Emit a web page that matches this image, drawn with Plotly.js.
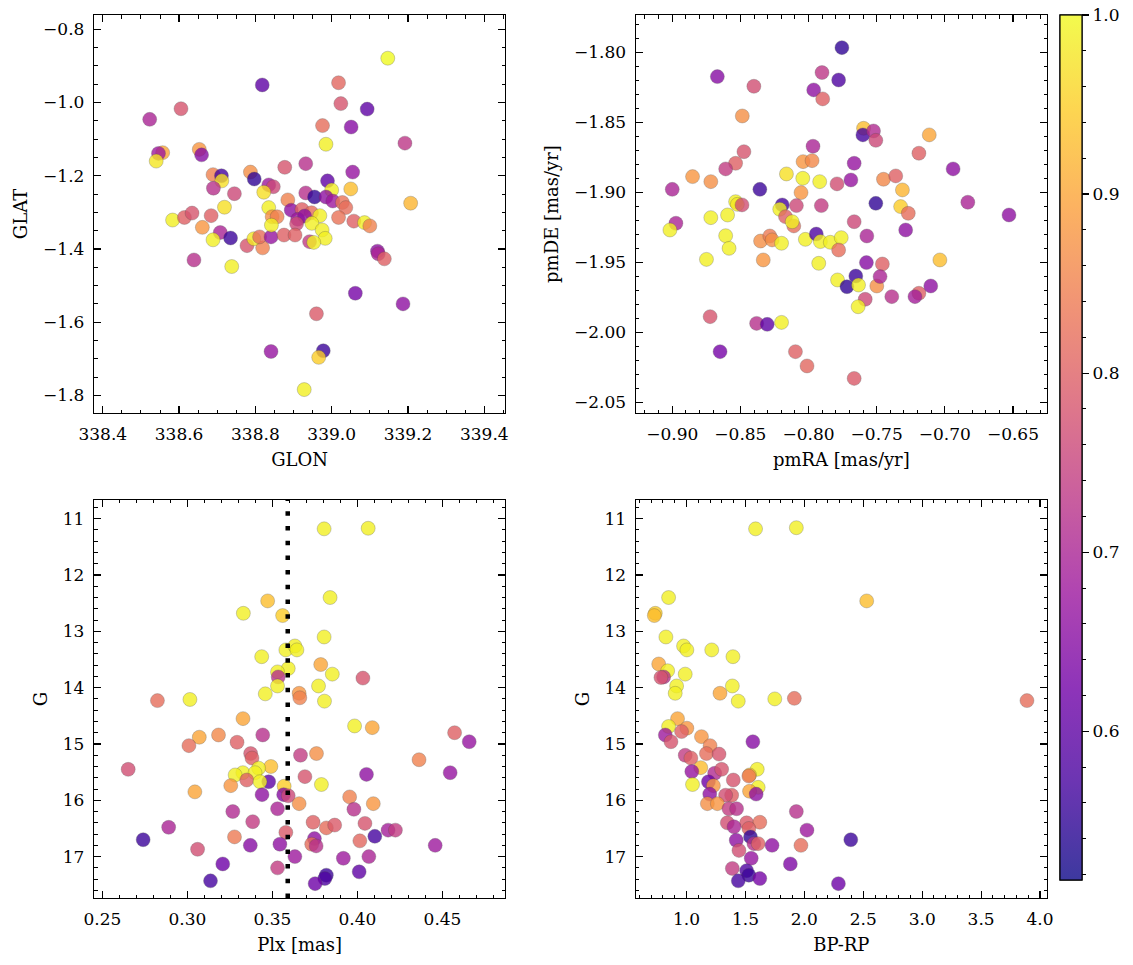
<!DOCTYPE html>
<html>
<head>
<meta charset="utf-8">
<script src="https://cdn.plot.ly/plotly-3.0.1.min.js"></script>
<style>html,body{margin:0;padding:0;background:#fff;} #chart{width:1133px;height:965px;}</style>
</head>
<body>
<div id="chart"></div>
<script>
// ---------------- DATA ----------------
// Panel 1: sky position
const glon = [339.147,338.818,339.018,339.024,339.093,338.605,338.523,338.976,339.051,338.985,339.192,338.557,338.546,338.540,338.653,338.659,338.877,338.932,339.055,338.787,338.797,338.689,338.711,338.712,338.989,339.000,339.050,338.690,338.745,338.835,338.847,338.822,338.932,338.955,338.985,339.003,339.207,338.885,339.028,339.037,338.719,338.835,338.894,338.922,338.947,338.969,338.911,338.929,338.908,338.844,338.857,338.583,338.614,338.634,338.684,338.661,338.708,338.689,338.735,338.778,338.819,338.796,338.811,338.841,338.875,338.904,338.842,338.948,338.975,338.983,338.942,338.953,339.058,339.086,339.100,339.018,339.120,339.122,339.138,338.639,338.738,339.062,339.187,338.960,338.841,338.978,338.966,338.928];
const glat = [-0.879,-0.952,-0.946,-1.003,-1.018,-1.017,-1.046,-1.063,-1.067,-1.114,-1.111,-1.137,-1.139,-1.160,-1.128,-1.143,-1.177,-1.167,-1.190,-1.190,-1.209,-1.197,-1.200,-1.214,-1.214,-1.239,-1.236,-1.234,-1.249,-1.225,-1.230,-1.245,-1.247,-1.258,-1.258,-1.269,-1.275,-1.266,-1.273,-1.287,-1.286,-1.287,-1.294,-1.292,-1.301,-1.309,-1.319,-1.310,-1.331,-1.312,-1.312,-1.321,-1.314,-1.302,-1.309,-1.341,-1.355,-1.375,-1.370,-1.391,-1.397,-1.372,-1.367,-1.367,-1.362,-1.362,-1.335,-1.330,-1.348,-1.371,-1.380,-1.382,-1.324,-1.328,-1.337,-1.314,-1.406,-1.413,-1.427,-1.430,-1.448,-1.521,-1.550,-1.577,-1.680,-1.678,-1.696,-1.784];
const probSky = [1.00,0.60,0.81,0.78,0.60,0.78,0.70,0.82,0.65,0.99,0.73,0.90,0.68,0.98,0.88,0.65,0.78,0.72,0.67,0.87,0.55,0.85,0.57,0.97,0.60,0.99,0.93,0.72,0.76,0.68,0.76,0.97,0.72,0.55,0.66,0.68,0.92,0.85,0.83,0.82,0.97,0.99,0.66,0.80,0.82,0.99,0.68,0.66,0.76,0.87,0.85,0.99,0.80,0.78,0.80,0.88,0.70,0.99,0.56,0.78,0.85,0.98,0.82,0.67,0.80,0.80,0.99,0.99,0.99,0.99,0.74,0.99,0.80,0.99,0.85,0.83,0.66,0.70,0.80,0.72,0.99,0.63,0.66,0.79,0.67,0.56,0.95,0.99];

// Panel 2: proper motions
const pmra = [-0.7755,-0.8669,-0.7779,-0.7901,-0.7962,-0.7896,-0.8401,-0.8486,-0.7596,-0.7601,-0.7523,-0.7506,-0.7114,-0.7190,-0.6939,-0.8474,-0.7967,-0.8535,-0.8608,-0.8851,-0.8717,-0.9000,-0.8357,-0.8162,-0.8040,-0.7974,-0.8042,-0.7918,-0.8055,-0.7791,-0.7665,-0.7689,-0.7450,-0.7360,-0.7311,-0.7506,-0.7324,-0.7268,-0.6831,-0.6529,-0.7906,-0.8089,-0.8193,-0.8211,-0.8535,-0.8522,-0.8488,-0.8973,-0.9017,-0.8717,-0.8594,-0.8608,-0.8583,-0.8749,-0.8332,-0.8352,-0.8284,-0.8267,-0.8198,-0.8169,-0.8108,-0.8120,-0.8023,-0.7943,-0.7913,-0.7840,-0.7760,-0.7779,-0.7665,-0.7572,-0.7287,-0.7925,-0.7575,-0.7458,-0.7036,-0.7787,-0.7718,-0.7653,-0.7633,-0.7499,-0.7475,-0.7584,-0.7636,-0.7389,-0.7190,-0.7219,-0.7103,-0.8722,-0.8381,-0.8303,-0.8198,-0.8649,-0.8096,-0.8011,-0.7665];
const pmde = [-1.7967,-1.8174,-1.8198,-1.8145,-1.8269,-1.8333,-1.8243,-1.8455,-1.8543,-1.8590,-1.8562,-1.8629,-1.8590,-1.8721,-1.8833,-1.8710,-1.8671,-1.8793,-1.8833,-1.8888,-1.8924,-1.8979,-1.8979,-1.8869,-1.8781,-1.8774,-1.8900,-1.8924,-1.9002,-1.8940,-1.8793,-1.8912,-1.8907,-1.8883,-1.8983,-1.9079,-1.9102,-1.9150,-1.9071,-1.9162,-1.9095,-1.9095,-1.9090,-1.9121,-1.9067,-1.9086,-1.9090,-1.9221,-1.9269,-1.9181,-1.9162,-1.9310,-1.9400,-1.9479,-1.9483,-1.9348,-1.9312,-1.9340,-1.9364,-1.9174,-1.9240,-1.9210,-1.9336,-1.9298,-1.9352,-1.9357,-1.9324,-1.9412,-1.9210,-1.9312,-1.9269,-1.9507,-1.9502,-1.9512,-1.9483,-1.9626,-1.9674,-1.9598,-1.9662,-1.9669,-1.9602,-1.9764,-1.9817,-1.9745,-1.9721,-1.9745,-1.9669,-1.9888,-1.9936,-1.9943,-1.9929,-2.0138,-2.0138,-2.0240,-2.0329];
const probPm = [0.55,0.65,0.58,0.73,0.66,0.80,0.77,0.87,0.93,0.57,0.71,0.76,0.90,0.80,0.66,0.78,0.70,0.80,0.74,0.88,0.87,0.70,0.56,0.97,0.88,0.86,0.99,0.99,0.88,0.77,0.67,0.67,0.86,0.80,0.92,0.55,0.95,0.82,0.70,0.66,0.74,0.76,0.57,0.99,0.99,0.98,0.77,0.70,0.99,0.99,0.99,0.99,0.99,0.99,0.88,0.87,0.84,0.87,0.99,0.80,0.82,0.99,0.99,0.58,0.99,0.99,0.99,0.82,0.76,0.70,0.66,0.99,0.65,0.80,0.93,0.99,0.55,0.56,0.99,0.87,0.70,0.76,0.99,0.72,0.80,0.69,0.66,0.78,0.72,0.60,0.99,0.63,0.80,0.81,0.79];

// Panel 3: parallax vs G
const plx = [0.3804,0.4063,0.3839,0.3472,0.3329,0.3560,0.3804,0.3579,0.3632,0.3644,0.3437,0.3784,0.3852,0.3593,0.3530,0.3534,0.4032,0.3530,0.3771,0.3458,0.3657,0.3661,0.3806,0.2824,0.3015,0.3327,0.3983,0.4087,0.4571,0.4657,0.3070,0.3183,0.3009,0.3292,0.3443,0.3372,0.3380,0.3665,0.3759,0.4362,0.2652,0.3491,0.3419,0.3326,0.3281,0.3398,0.4545,0.4053,0.3691,0.3349,0.3478,0.3427,0.3255,0.3788,0.3569,0.3044,0.3439,0.3566,0.3593,0.3954,0.3657,0.4093,0.3530,0.3979,0.3267,0.3384,0.3739,0.4044,0.3817,0.3866,0.2890,0.4180,0.4223,0.3579,0.2740,0.3277,0.4102,0.3747,0.3731,0.3757,0.4014,0.3370,0.3544,0.4457,0.3060,0.3632,0.3917,0.4067,0.3208,0.3530,0.4010,0.3136,0.3817,0.3808,0.3751];
const gPlx = [11.18,11.17,12.40,12.46,12.68,12.72,13.10,13.33,13.26,13.33,13.45,13.59,13.76,13.66,13.72,13.81,13.83,13.97,13.97,14.11,14.10,14.18,14.24,14.23,14.21,14.55,14.68,14.71,14.80,14.96,14.88,14.84,15.03,14.97,14.84,15.17,15.25,15.20,15.17,15.28,15.45,15.40,15.43,15.51,15.55,15.51,15.51,15.54,15.58,15.64,15.67,15.67,15.74,15.72,15.75,15.85,15.90,15.90,15.92,15.94,16.06,16.06,16.15,16.16,16.20,16.38,16.39,16.41,16.49,16.44,16.48,16.53,16.53,16.57,16.70,16.65,16.64,16.68,16.78,16.81,16.72,16.80,16.78,16.80,16.87,17.00,17.03,17.00,17.13,17.20,17.27,17.43,17.33,17.39,17.48];
const probPlx = [0.99,0.99,0.99,0.93,0.99,0.95,0.99,0.99,0.99,0.99,0.99,0.90,0.99,0.99,0.99,0.72,0.78,0.99,0.99,0.99,0.88,0.85,0.99,0.82,0.99,0.90,0.99,0.90,0.80,0.67,0.90,0.86,0.82,0.80,0.72,0.78,0.80,0.74,0.87,0.85,0.77,0.93,0.99,0.99,0.99,0.99,0.67,0.66,0.78,0.80,0.60,0.99,0.88,0.99,0.95,0.90,0.66,0.65,0.76,0.85,0.87,0.88,0.70,0.72,0.71,0.74,0.80,0.78,0.82,0.79,0.70,0.69,0.74,0.79,0.56,0.84,0.57,0.66,0.82,0.72,0.81,0.65,0.66,0.68,0.77,0.68,0.68,0.70,0.62,0.74,0.60,0.57,0.56,0.58,0.62];
const plxRef = 0.359;

// Panel 4: colour-magnitude diagram
const bprp = [1.586,1.932,2.529,0.848,0.735,0.727,0.825,0.975,1.003,1.214,1.394,0.764,0.840,0.989,0.806,0.783,0.916,0.904,1.284,1.389,1.439,1.749,1.915,3.889,0.924,0.848,1.003,0.958,0.820,0.868,1.563,1.127,1.200,0.989,1.037,1.169,1.276,1.121,1.045,1.239,1.298,1.600,1.535,1.529,1.051,1.186,1.228,1.397,1.608,1.535,1.591,1.197,1.383,1.332,1.177,1.262,1.360,1.425,1.932,1.346,1.510,1.622,1.403,1.529,2.022,1.422,1.543,1.572,1.608,1.726,1.971,2.394,1.445,1.549,1.881,1.389,1.510,1.529,1.622,1.439,2.289];
const gCmd = [11.18,11.16,12.46,12.40,12.68,12.72,13.10,13.26,13.33,13.33,13.45,13.58,13.70,13.76,13.81,13.82,13.97,14.10,14.10,13.97,14.24,14.20,14.19,14.23,14.55,14.69,14.72,14.78,14.84,14.96,14.96,14.87,15.03,15.20,15.25,15.17,15.18,15.42,15.49,15.52,15.45,15.45,15.55,15.57,15.72,15.67,15.74,15.64,15.77,15.84,15.89,15.89,15.91,15.91,16.06,16.06,16.15,16.15,16.20,16.40,16.40,16.39,16.47,16.50,16.53,16.71,16.65,16.77,16.77,16.80,16.80,16.70,16.89,17.03,17.13,17.21,17.25,17.33,17.39,17.43,17.48];
const probCmd = [0.99,0.99,0.93,0.99,0.95,0.93,0.99,0.99,0.99,0.99,0.99,0.90,0.99,0.99,0.72,0.78,0.99,0.99,0.90,0.99,0.99,0.99,0.82,0.82,0.90,0.99,0.88,0.80,0.68,0.78,0.65,0.88,0.85,0.74,0.80,0.82,0.78,0.93,0.67,0.71,0.78,0.99,0.93,0.84,0.99,0.62,0.88,0.78,0.99,0.90,0.66,0.66,0.80,0.77,0.87,0.88,0.74,0.72,0.72,0.77,0.79,0.82,0.70,0.80,0.68,0.66,0.55,0.72,0.80,0.66,0.82,0.56,0.77,0.67,0.64,0.74,0.58,0.56,0.63,0.57,0.62];

const pMin = 0.517, pMax = 1.0;
const cbMajor = [0.6, 0.7, 0.8, 0.9, 1.0];

// ---------------- STYLE ----------------
const FONT = '"DejaVu Serif", "Liberation Serif", serif';
const tickFont = {family: FONT, size: 17, color: '#000'};
const titleFont = {family: FONT, size: 18, color: '#000'};
const plasma = ['#0d0887','#46039f','#7201a8','#9c179e','#bd3786','#d8576b','#ed7953','#fb9f3a','#fdca26','#f0f921'];
const plasmaScale = plasma.map((c, i) => [i / (plasma.length - 1), c]);
function lighten(hex, a) {
  const r = parseInt(hex.slice(1,3),16), g = parseInt(hex.slice(3,5),16), b = parseInt(hex.slice(5,7),16);
  const m = v => Math.round(a * v + (1 - a) * 255);
  return 'rgb(' + m(r) + ',' + m(g) + ',' + m(b) + ')';
}
const cbScale = plasma.map((c, i) => [i / (plasma.length - 1), lighten(c, 0.8)]);

function pts(x, y, p, xa, ya) {
  return {
    type: 'scatter', mode: 'markers', x: x, y: y, xaxis: xa, yaxis: ya,
    hoverinfo: 'skip', showlegend: false,
    marker: {
      color: p, colorscale: plasmaScale, cmin: pMin, cmax: pMax, showscale: false,
      size: 14, opacity: 0.8, line: {color: 'rgba(70,70,70,0.55)', width: 0.6}
    }
  };
}

function ax(extra) {
  const base = {
    showline: true, linecolor: '#000', linewidth: 1.2, mirror: 'ticks',
    ticks: 'inside', ticklen: 7, tickwidth: 1.2, tickcolor: '#000',
    showgrid: false, zeroline: false, tickfont: tickFont, ticklabelstandoff: 5,
    automargin: false,
  };
  const o = Object.assign(base, extra);
  o.minor = {ticks: 'inside', ticklen: 3.5, tickwidth: 1, tickcolor: '#000', showgrid: false, dtick: extra.minorDtick};
  delete o.minorDtick;
  return o;
}

const colorbarBase = {
  thickness: 22, thicknessmode: 'pixels', len: 0.9796, lenmode: 'fraction',
  x: 1.0136, xanchor: 'left', y: 0.5102, yanchor: 'middle', xpad: 0, ypad: 0,
  outlinewidth: 1.2, outlinecolor: '#000', tickcolor: '#000',
  ticks: 'outside', tickfont: tickFont
};
const minorVals = [];
for (let v = 52; v <= 100; v += 2) { if (v % 10 !== 0) minorVals.push(v / 100); }

const cbTraceMajor = {
  type: 'scatter', mode: 'markers', x: [null], y: [null], xaxis: 'x4', yaxis: 'y4',
  hoverinfo: 'skip', showlegend: false,
  marker: {color: [pMin, pMax], colorscale: cbScale, cmin: pMin, cmax: pMax, showscale: true,
    colorbar: Object.assign({}, colorbarBase, {tickvals: cbMajor, tickformat: '.1f', ticklen: 7, tickwidth: 1.2})}
};
const cbTraceMinor = {
  type: 'scatter', mode: 'markers', x: [null], y: [null], xaxis: 'x4', yaxis: 'y4',
  hoverinfo: 'skip', showlegend: false,
  marker: {color: [pMin, pMax], colorscale: cbScale, cmin: pMin, cmax: pMax, showscale: true,
    colorbar: Object.assign({}, colorbarBase, {tickvals: minorVals, showticklabels: false, ticklen: 4, tickwidth: 1})}
};

const data = [
  pts(glon, glat, probSky, 'x', 'y'),
  pts(pmra, pmde, probPm, 'x2', 'y2'),
  pts(plx, gPlx, probPlx, 'x3', 'y3'),
  pts(bprp, gCmd, probCmd, 'x4', 'y4'),
  cbTraceMajor, cbTraceMinor
];

const L = [0, 0.43156], R = [0.56844, 1], T = [0.54926, 1], B = [0, 0.45074];
const layout = {
  width: 1133, height: 965,
  margin: {l: 94, r: 82, t: 15, b: 67, pad: 0},
  paper_bgcolor: '#fff', plot_bgcolor: '#fff', showlegend: false,
  xaxis: ax({domain: L, anchor: 'y', range: [338.377, 339.455], tick0: 338.4, dtick: 0.2, tickformat: '.1f', minorDtick: 0.05,
    title: {text: 'GLON', font: titleFont, standoff: 10}}),
  yaxis: ax({domain: T, anchor: 'x', range: [-1.848, -0.761], tick0: -0.8, dtick: 0.2, tickformat: '.1f', minorDtick: 0.05,
    title: {text: 'GLAT', font: titleFont, standoff: 10}}),
  xaxis2: ax({domain: R, anchor: 'y2', range: [-0.9268, -0.625], tick0: -0.9, dtick: 0.05, tickformat: '.2f', minorDtick: 0.01,
    title: {text: 'pmRA [mas/yr]', font: titleFont, standoff: 10}}),
  yaxis2: ax({domain: T, anchor: 'x2', range: [-2.0576, -1.7734], tick0: -1.8, dtick: 0.05, tickformat: '.2f', minorDtick: 0.01,
    title: {text: 'pmDE [mas/yr]', font: titleFont, standoff: 10}}),
  xaxis3: ax({domain: L, anchor: 'y3', range: [0.2451, 0.4869], tick0: 0.25, dtick: 0.05, tickformat: '.2f', minorDtick: 0.01,
    title: {text: 'Plx [mas]', font: titleFont, standoff: 10}}),
  yaxis3: ax({domain: B, anchor: 'x3', range: [17.735, 10.668], tick0: 11, dtick: 1, minorDtick: 0.2,
    title: {text: 'G', font: titleFont, standoff: 10}}),
  xaxis4: ax({domain: R, anchor: 'y4', range: [0.569, 4.059], tick0: 1, dtick: 0.5, tickformat: '.1f', minorDtick: 0.1,
    title: {text: 'BP-RP', font: titleFont, standoff: 10}}),
  yaxis4: ax({domain: B, anchor: 'x4', range: [17.735, 10.668], tick0: 11, dtick: 1, minorDtick: 0.2,
    title: {text: 'G', font: titleFont, standoff: 10}}),
  shapes: [{
    type: 'line', xref: 'x3', yref: 'y3 domain', x0: plxRef, x1: plxRef, y0: 0, y1: 1,
    line: {color: '#000', width: 4.5, dash: '4.5px,10.2px'}
  }]
};

Plotly.newPlot('chart', data, layout, {staticPlot: true, displayModeBar: false});
</script>
</body>
</html>
